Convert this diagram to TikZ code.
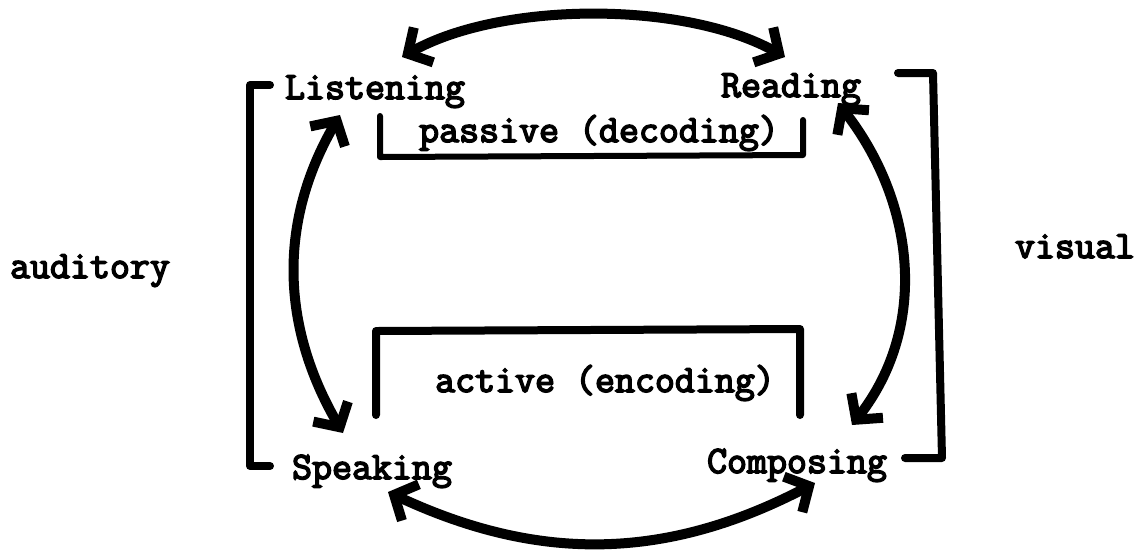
\documentclass[tikz,border=0pt]{standalone}
\usepackage{fontspec}
\newfontfamily\twfont{Latin Modern Mono}[FakeBold=4]
\usetikzlibrary{
    calc,
    arrows.meta
}
\tikzset{
    lbl/.style={anchor=base, inner sep=0pt, font=\fontsize{19.4}{22}\selectfont\twfont},
    arr/.style={line width=5pt, line cap=round,
        {Straight Barb[length=9pt,width=20pt]}-{Straight Barb[length=9pt,width=20pt]}},
    brk/.style={line width=4pt, line cap=round, line join=round}
}

\begin{document}
\begin{tikzpicture}[x=0.5pt,y=-0.5pt]
        \useasboundingbox (0,0) rectangle (1142,554);

        \draw (375,99) node[lbl](lis){Listening};
        \draw (791,97) node[lbl](rea){Reading};
        \draw (372,479) node[lbl](spk){Speaking};
        \draw (797,473) node[lbl](cmp){Composing};

        \draw (599,142) node[lbl](pas){passive (decoding)};
        \draw (605,392) node[lbl](act){active (encoding)};
        \draw (90,278) node[lbl](aud){auditory};
        \draw (1075,258) node[lbl](vis){visual};

        % brackets
        \draw[brk, line width=3pt] (380,116) -- (380,157) -- (803,155) -- (803,120);
        \draw[brk] (376,415) -- (376,331) -- (800,329) -- (800,415);
        \draw[brk] (270,85) -- (250,85) -- (250,466) -- (270,466);
        \draw[brk] (898,73) -- (933,73) -- (942,458) -- (905,458);

        % arrows
        \draw[arr] ([xshift=13.5pt,yshift=21pt]lis.base) .. controls +(100,-56) and +(-100,-56) .. ([xshift=-3pt,yshift=20pt]rea.base);
        \draw[arr] ([xshift=8pt,yshift=-6.5pt]spk.base) .. controls +(150,70) and +(-150,78) .. ([xshift=9pt,yshift=-5pt]cmp.base);
        \draw[arr] ([xshift=-17.5pt,yshift=-8pt]lis.base) .. controls +(-62,107) and +(-62,-107) .. ([xshift=-14.5pt,yshift=23pt]spk.base);
        \draw[arr] ([xshift=23.5pt,yshift=-3pt]rea.base) .. controls +(77,99) and +(77,-99) .. ([xshift=27.5pt,yshift=24pt]cmp.base);
    \end{tikzpicture}
\end{document}
